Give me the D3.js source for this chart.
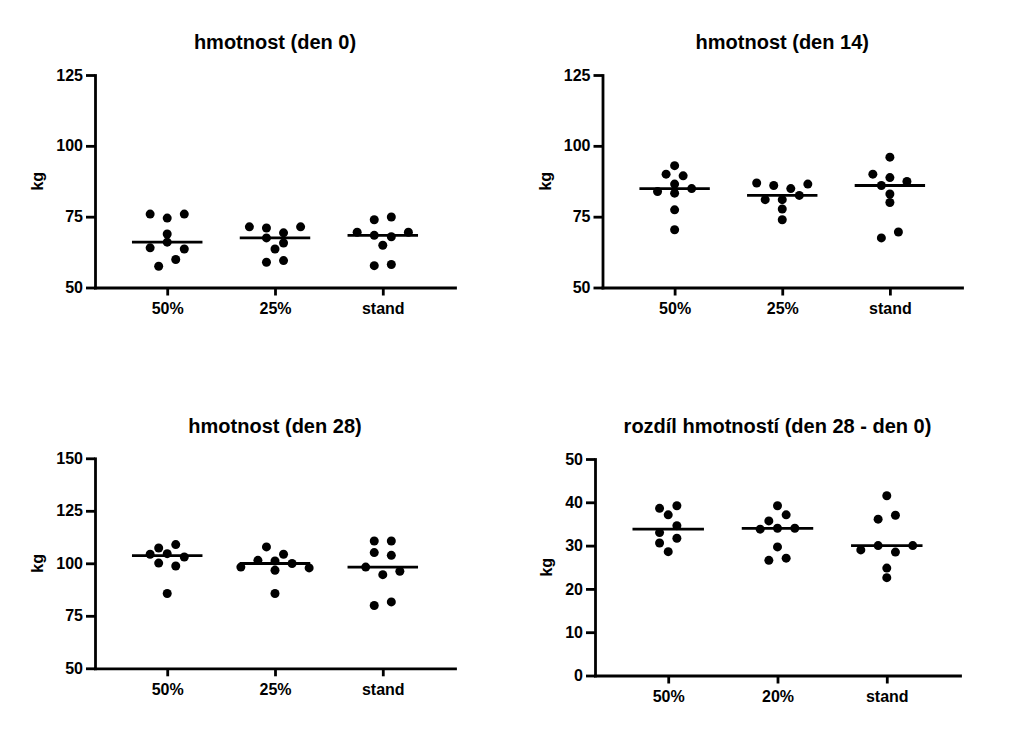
<!DOCTYPE html>
<html>
<head>
<meta charset="utf-8">
<script src="https://cdn.jsdelivr.net/npm/d3@7"></script>
<style>
  body { margin: 0; background: #fff; }
  text { font-family: "Liberation Sans", Arial, sans-serif; font-weight: bold; fill: #000; }
</style>
</head>
<body>
<svg id="chart" width="1024" height="735"></svg>
<script>
// ---------------- DATA ----------------
const titles = ["hmotnost (den 0)", "hmotnost (den 14)", "hmotnost (den 28)", "rozdíl hmotností (den 28 - den 0)"];
const groupsWeight = ["50%", "25%", "stand"];
const groupsDiff = ["50%", "20%", "stand"];
const yLabel = "kg";
const ticksWeight = [50, 75, 100, 125];
const ticksDay28 = [50, 75, 100, 125, 150];
const ticksDiff = [0, 10, 20, 30, 40, 50];

const day0_50    = [75.9, 74.5, 75.9, 68.9, 64.0, 66.0, 63.6, 57.5, 59.9];
const day0_25    = [71.4, 71.0, 69.3, 71.4, 67.5, 65.7, 63.6, 58.9, 59.5];
const day0_stand = [73.9, 74.9, 69.5, 68.4, 67.9, 69.5, 64.9, 57.7, 58.1];

const day14_50    = [93.0, 90.0, 89.4, 83.9, 86.5, 84.9, 83.3, 77.4, 70.4];
const day14_25    = [86.9, 86.0, 84.9, 86.5, 81.0, 81.0, 82.5, 77.7, 73.9];
const day14_stand = [96.0, 90.0, 88.8, 87.4, 86.0, 83.0, 80.0, 67.5, 69.6];

const day28_50    = [107.3, 108.9, 104.3, 104.6, 103.0, 100.1, 98.7, 85.6];
const day28_25    = [107.8, 104.3, 98.2, 101.4, 101.1, 99.9, 97.8, 96.7, 85.6];
const day28_stand = [110.6, 110.6, 105.1, 103.8, 98.2, 94.6, 96.2, 79.9, 81.6];

const diff_50    = [38.6, 39.2, 37.1, 33.0, 34.6, 30.6, 31.7, 28.6];
const diff_20    = [39.2, 35.7, 37.1, 33.8, 34.0, 34.0, 29.7, 26.6, 27.1];
const diff_stand = [41.5, 36.1, 37.0, 29.0, 30.0, 28.5, 30.0, 24.8, 22.6];

// ---------------- LAYOUT ----------------
const panels = [
  { title: titles[0], cats: groupsWeight, series: [day0_50, day0_25, day0_stand], ticks: ticksWeight,
    x0: 95, x1: 455, yTop: 75, yBot: 287.5 },
  { title: titles[1], cats: groupsWeight, series: [day14_50, day14_25, day14_stand], ticks: ticksWeight,
    x0: 602.5, x1: 962, yTop: 75, yBot: 287.5 },
  { title: titles[2], cats: groupsWeight, series: [day28_50, day28_25, day28_stand], ticks: ticksDay28,
    x0: 95, x1: 455, yTop: 458.3, yBot: 668.3 },
  { title: titles[3], cats: groupsDiff, series: [diff_50, diff_20, diff_stand], ticks: ticksDiff,
    x0: 595, x1: 960, yTop: 459, yBot: 675.5 }
];

const R = 4.5;
const AXW = 2.8;

// Scatter-dot layout: points close in value share a row and are spread symmetrically
function swarm(values, y, col) {
  const T = 7.9, minD = 8.1;
  const order = d3.range(values.length).sort((a, b) => d3.descending(values[a], values[b]) || a - b);
  const rows = [];
  let cur = null;
  order.forEach(i => {
    const py = y(values[i]);
    if (!cur || py - cur.start > T) { cur = { start: py, idx: [] }; rows.push(cur); }
    cur.idx.push(i);
  });
  const off = new Array(values.length).fill(0);
  const placed = [];
  rows.forEach(row => {
    const members = row.idx.slice().sort((a, b) => a - b);
    const n = members.length;
    const base = members.map((i, j) => (j - (n - 1) / 2) * 2 * col);
    const shifts = [0, -1, 1, -2, 2, -3, 3];
    let chosen = 0;
    for (const s of shifts) {
      const ok = members.every((i, j) => placed.every(p => {
        const dx = base[j] + s * col - p.x, dy = y(values[i]) - p.y;
        return Math.hypot(dx, dy) >= minD;
      }));
      if (ok) { chosen = s; break; }
    }
    members.forEach((i, j) => {
      off[i] = base[j] + chosen * col;
      placed.push({ x: off[i], y: y(values[i]) });
    });
  });
  return off;
}

const svg = d3.select("#chart");

panels.forEach(p => {
  const g = svg.append("g");
  const y = d3.scaleLinear().domain(d3.extent(p.ticks)).range([p.yBot, p.yTop]);
  const x = d3.scalePoint().domain(p.cats).range([p.x0, p.x1]).padding(0.67);
  const step = x.step();
  const col = step * 0.0792;

  // Y axis
  const ya = g.append("g").attr("transform", `translate(${p.x0},0)`)
    .call(d3.axisLeft(y).tickValues(p.ticks).tickSize(9).tickSizeOuter(0).tickPadding(3));
  // X axis
  const xa = g.append("g").attr("transform", `translate(0,${p.yBot})`)
    .call(d3.axisBottom(x).tickSize(8).tickSizeOuter(0).tickPadding(7));

  [ya, xa].forEach(a => {
    a.select(".domain").attr("stroke", "#000").attr("stroke-width", AXW).attr("stroke-linecap", "square");
    a.selectAll(".tick line").attr("stroke", "#000").attr("stroke-width", AXW);
    a.selectAll(".tick text").style("font-size", "16px").attr("fill", "#000");
  });

  // Y label
  let minLeft = Infinity;
  ya.selectAll(".tick text").each(function () {
    const b = this.getBBox();
    minLeft = Math.min(minLeft, p.x0 + b.x);
  });
  g.append("text")
    .attr("transform", `translate(${minLeft - 13},${(p.yTop + p.yBot) / 2}) rotate(-90)`)
    .attr("text-anchor", "middle")
    .style("font-size", "16px")
    .text(yLabel);

  // Title
  g.append("text")
    .attr("x", (p.x0 + p.x1) / 2)
    .attr("y", p.yTop - 25.7)
    .attr("text-anchor", "middle")
    .style("font-size", "20px")
    .text(p.title);

  // Points and medians
  p.series.forEach((vals, gi) => {
    const cx = x(p.cats[gi]);
    const offs = swarm(vals, y, col);
    g.append("g").selectAll("circle").data(vals).join("circle")
      .attr("cx", (d, i) => cx + offs[i])
      .attr("cy", d => y(d))
      .attr("r", R)
      .attr("fill", "#000");
    const med = d3.median(vals);
    const hw = step * 0.327;
    g.append("line")
      .attr("x1", cx - hw).attr("x2", cx + hw)
      .attr("y1", y(med)).attr("y2", y(med))
      .attr("stroke", "#000").attr("stroke-width", AXW);
  });
});
</script>
</body>
</html>
